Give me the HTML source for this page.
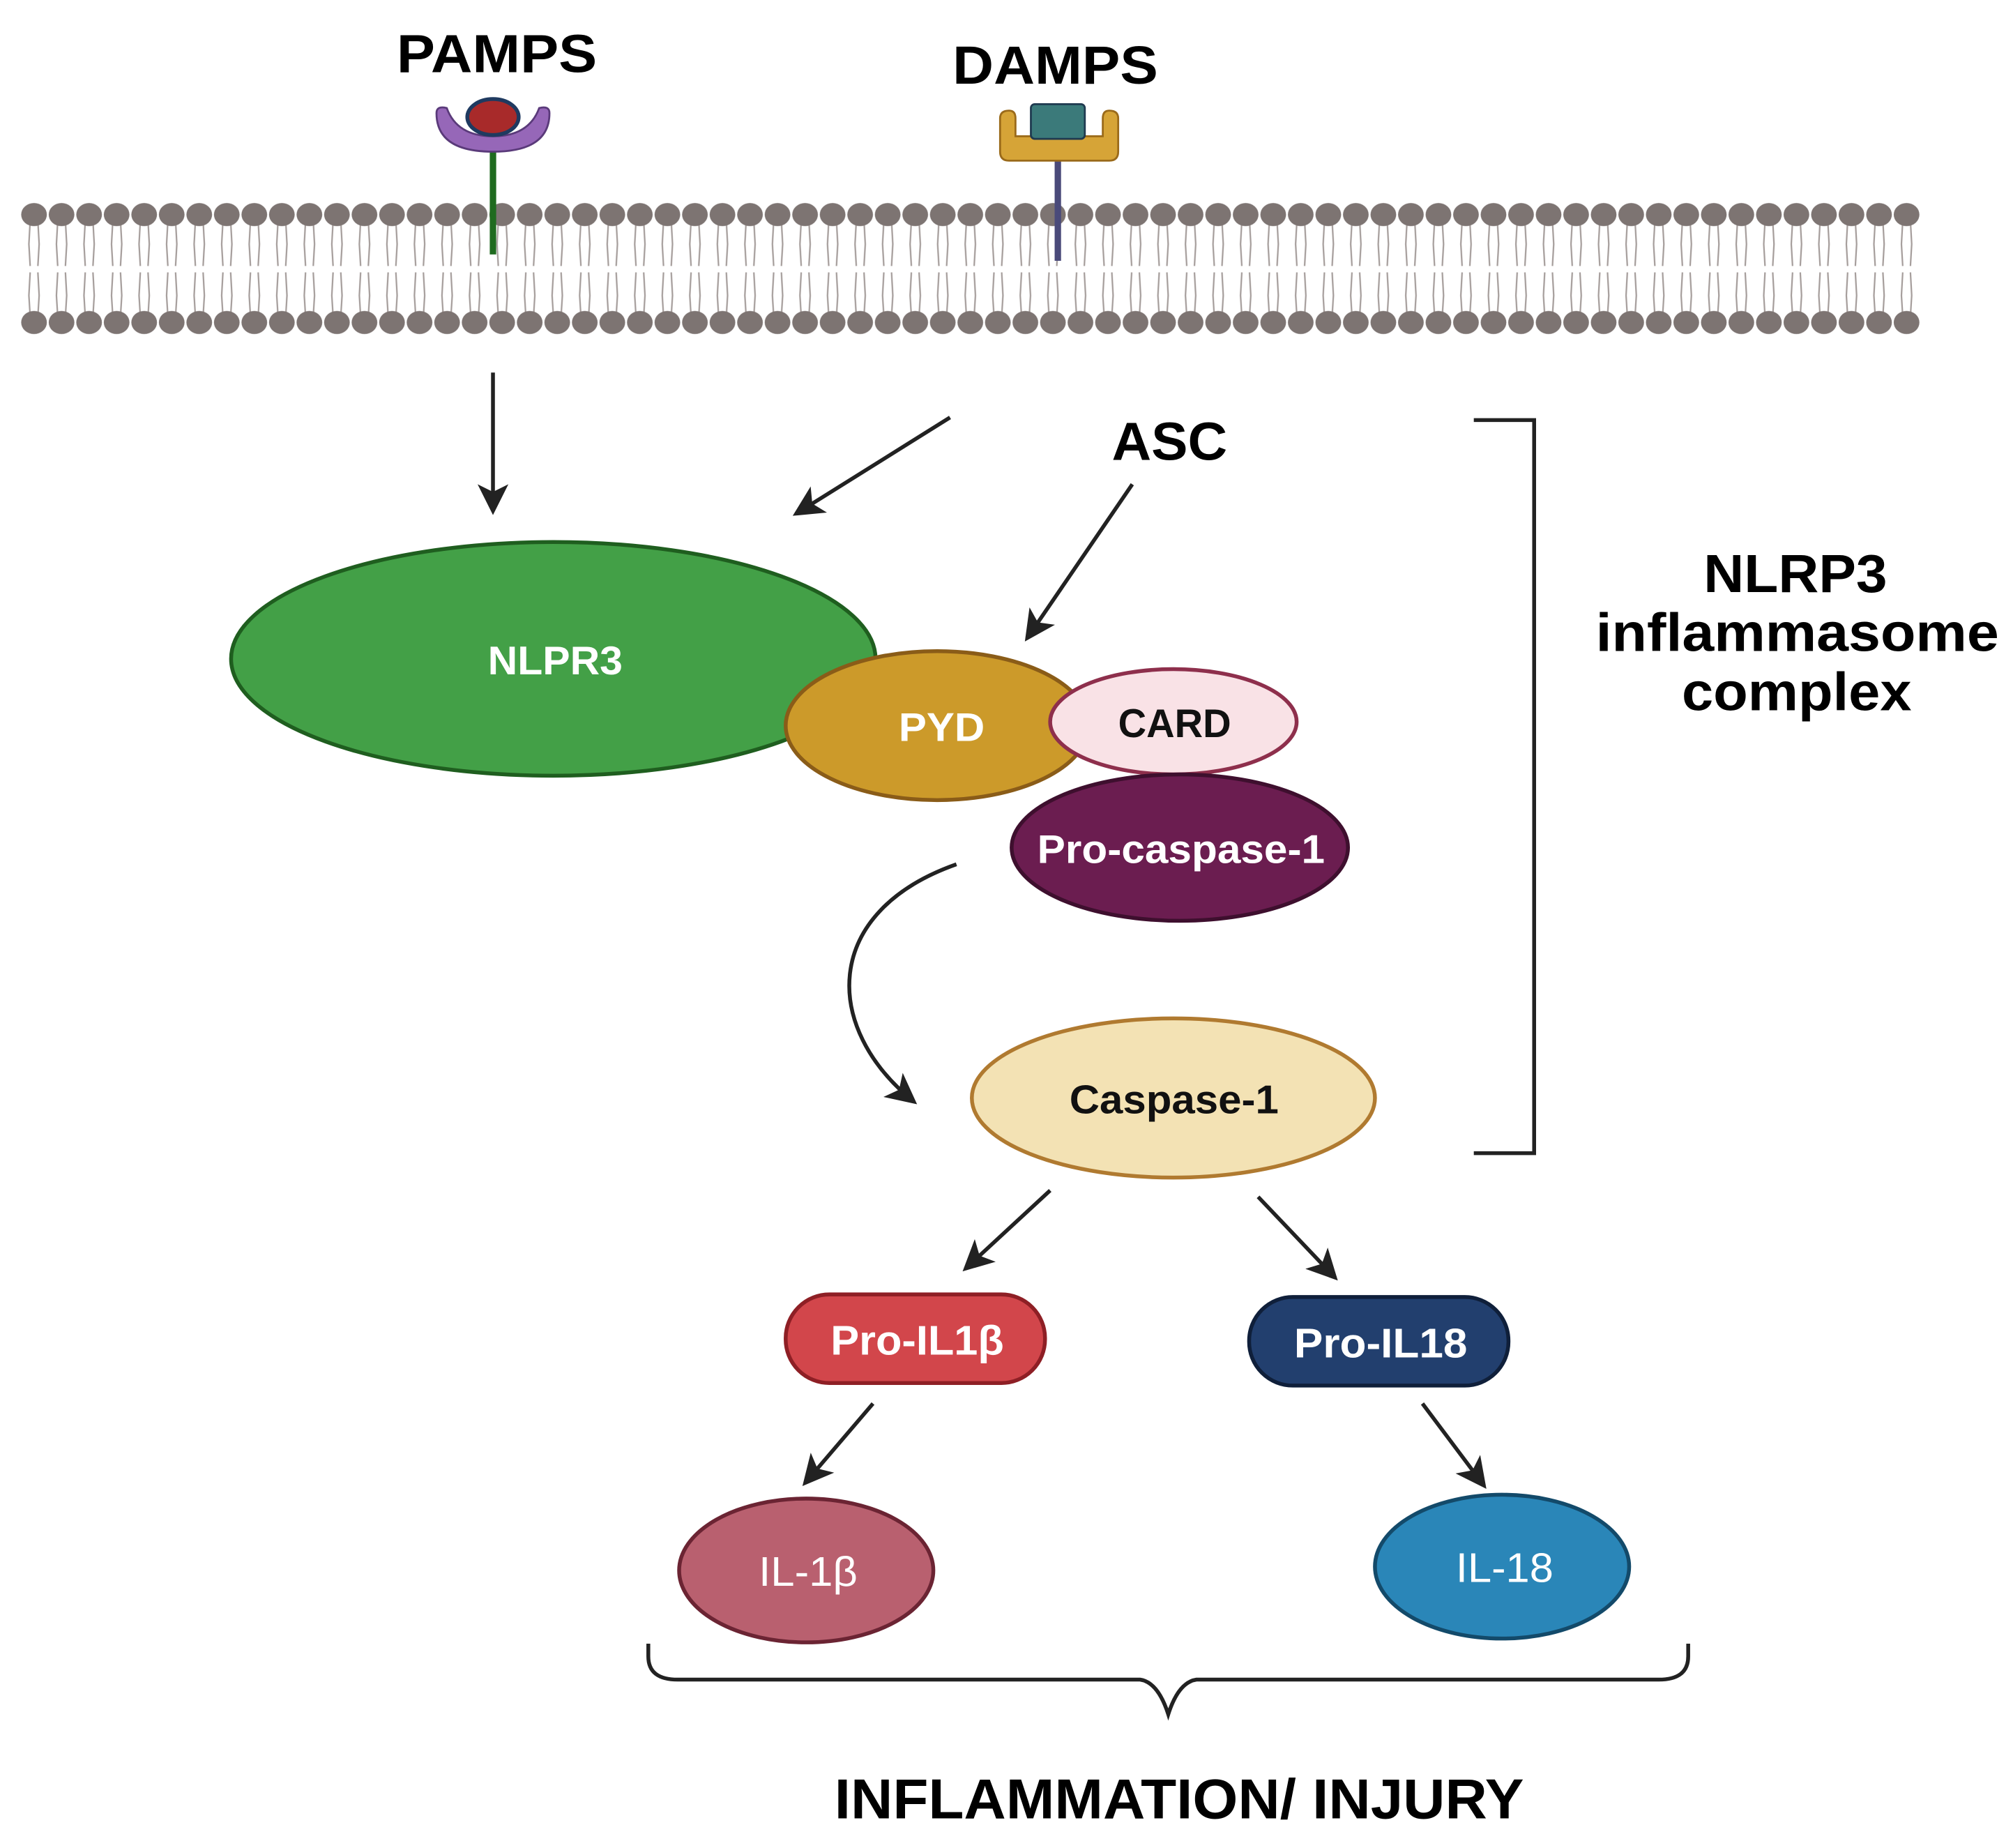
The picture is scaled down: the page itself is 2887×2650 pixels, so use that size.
<!DOCTYPE html>
<html><head><meta charset="utf-8"><style>
html,body{margin:0;padding:0;background:#fff;}
svg{display:block;}
text{font-family:"Liberation Sans",sans-serif;}
</style></head><body>
<svg width="2887" height="2650" viewBox="0 0 1568 1439" xmlns="http://www.w3.org/2000/svg">
<defs>
<pattern id="mem" x="16" y="0" width="21.45" height="1439" patternUnits="userSpaceOnUse">
<g stroke="#a59d9b" stroke-width="1.2" fill="none">
<path d="M7.5,172 L6.5,190 L7.5,207"/><path d="M13.5,172 L14.5,190 L13.5,207"/>
<path d="M7.5,212 L6.5,230 L7.5,246"/><path d="M13.5,212 L14.5,230 L13.5,246"/>
</g>
<ellipse cx="10.5" cy="167" rx="10" ry="9" fill="#7d7472"/>
<ellipse cx="10.5" cy="251" rx="10" ry="9" fill="#7d7472"/>
</pattern>
<marker id="ah" markerWidth="8" markerHeight="8" refX="7" refY="4" orient="auto" markerUnits="strokeWidth">
<path d="M0,0 L8,4 L0,8 L2,4 Z" fill="#222"/>
</marker>
</defs>
<rect width="1568" height="1439" fill="#fff"/>

<rect x="16" y="155" width="1480" height="108" fill="url(#mem)"/>

<line x1="384" y1="118" x2="384" y2="198" stroke="#1f6b1f" stroke-width="5"/>
<path d="M340,88 Q340,118 384,118 Q428,118 428,88 Q428,82 420,84 Q412,106 384,106 Q356,106 348,84 Q340,82 340,88 Z" fill="#9667b8" stroke="#5a3a7a" stroke-width="1.5"/>
<ellipse cx="384" cy="91" rx="20" ry="14" fill="#a82a2a" stroke="#1f3a60" stroke-width="3"/>
<line x1="824" y1="122" x2="824" y2="203" stroke="#4a4a7a" stroke-width="5"/>
<path d="M779,92 Q779,86 786,86 Q791,86 791,92 L791,106 L859,106 L859,92 Q859,86 864,86 Q871,86 871,92 L871,118 Q871,125 864,125 L786,125 Q779,125 779,118 Z" fill="#d6a437" stroke="#9a6a1a" stroke-width="1.5"/>
<rect x="803" y="81" width="42" height="27" rx="3" fill="#3b7a7a" stroke="#1f3a50" stroke-width="1.5"/>

<text x="309" y="56" font-size="42" font-weight="bold" textLength="156" lengthAdjust="spacingAndGlyphs">PAMPS</text>
<text x="742" y="65" font-size="42" font-weight="bold" textLength="160" lengthAdjust="spacingAndGlyphs">DAMPS</text>

<g stroke="#222" stroke-width="3" fill="none" marker-end="url(#ah)">
<line x1="384" y1="290" x2="384" y2="398"/>
<line x1="740" y1="325" x2="620" y2="400"/>
<line x1="882" y1="377" x2="800" y2="497"/>
<path d="M745,673 C640,710 640,800 712,858"/>
<line x1="818" y1="927" x2="752" y2="988"/>
<line x1="980" y1="932" x2="1040" y2="995"/>
<line x1="680" y1="1093" x2="627" y2="1155"/>
<line x1="1108" y1="1093" x2="1156" y2="1157"/>
</g>

<text x="866" y="358" font-size="42" font-weight="bold" textLength="90" lengthAdjust="spacingAndGlyphs">ASC</text>

<path d="M1148,327 L1195,327 L1195,898 L1148,898" fill="none" stroke="#222" stroke-width="3"/>
<g font-size="42" font-weight="bold">
<text x="1327" y="461" textLength="143" lengthAdjust="spacingAndGlyphs">NLRP3</text>
<text x="1243" y="507" textLength="314" lengthAdjust="spacingAndGlyphs">inflammasome</text>
<text x="1310" y="553" textLength="179" lengthAdjust="spacingAndGlyphs">complex</text>
</g>

<ellipse cx="431" cy="513" rx="251" ry="91" fill="#43a047" stroke="#1f5e1f" stroke-width="3"/>
<text x="380" y="525" font-size="31" font-weight="bold" fill="#fff" textLength="105" lengthAdjust="spacingAndGlyphs">NLPR3</text>
<ellipse cx="730" cy="565" rx="118" ry="58" fill="#cc9a2a" stroke="#8a5c18" stroke-width="3"/>
<text x="700" y="577" font-size="31" font-weight="bold" fill="#fff" textLength="67" lengthAdjust="spacingAndGlyphs">PYD</text>
<ellipse cx="914" cy="562" rx="96" ry="41" fill="#f9e2e6" stroke="#8e2f4c" stroke-width="3"/>
<text x="871" y="574" font-size="31" font-weight="bold" fill="#111" textLength="88" lengthAdjust="spacingAndGlyphs">CARD</text>
<ellipse cx="919" cy="660" rx="131" ry="57" fill="#6b1d50" stroke="#3e0f2e" stroke-width="3"/>
<text x="808" y="672" font-size="31" font-weight="bold" fill="#fff" textLength="224" lengthAdjust="spacingAndGlyphs">Pro-caspase-1</text>

<ellipse cx="914" cy="855" rx="157" ry="62" fill="#f3e2b4" stroke="#b07a30" stroke-width="3"/>
<text x="833" y="867" font-size="31" font-weight="bold" fill="#111" textLength="163" lengthAdjust="spacingAndGlyphs">Caspase-1</text>

<rect x="612" y="1008" width="202" height="69" rx="34" fill="#d2464b" stroke="#8e1f25" stroke-width="3"/>
<text x="647" y="1055" font-size="32" font-weight="bold" fill="#fff" textLength="135" lengthAdjust="spacingAndGlyphs">Pro-IL1β</text>
<rect x="973" y="1010" width="202" height="69" rx="34" fill="#223f6e" stroke="#0f1f3a" stroke-width="3"/>
<text x="1008" y="1057" font-size="32" font-weight="bold" fill="#fff" textLength="135" lengthAdjust="spacingAndGlyphs">Pro-IL18</text>

<ellipse cx="628" cy="1223" rx="99" ry="56" fill="#b9606f" stroke="#6b2433" stroke-width="3"/>
<text x="591" y="1235" font-size="32" fill="#fff" textLength="77" lengthAdjust="spacingAndGlyphs">IL-1β</text>
<ellipse cx="1170" cy="1220" rx="99" ry="56" fill="#2a86b8" stroke="#134a6a" stroke-width="3"/>
<text x="1134" y="1232" font-size="32" fill="#fff" textLength="76" lengthAdjust="spacingAndGlyphs">IL-18</text>

<path d="M505,1280 L505,1290 Q505,1308 528,1308 L888,1308 Q902,1310 910,1335 Q918,1310 932,1308 L1292,1308 Q1315,1308 1315,1290 L1315,1280" fill="none" stroke="#222" stroke-width="3"/>

<text x="650" y="1416" font-size="44" font-weight="bold" textLength="537" lengthAdjust="spacingAndGlyphs">INFLAMMATION/ INJURY</text>
</svg>
</body></html>
